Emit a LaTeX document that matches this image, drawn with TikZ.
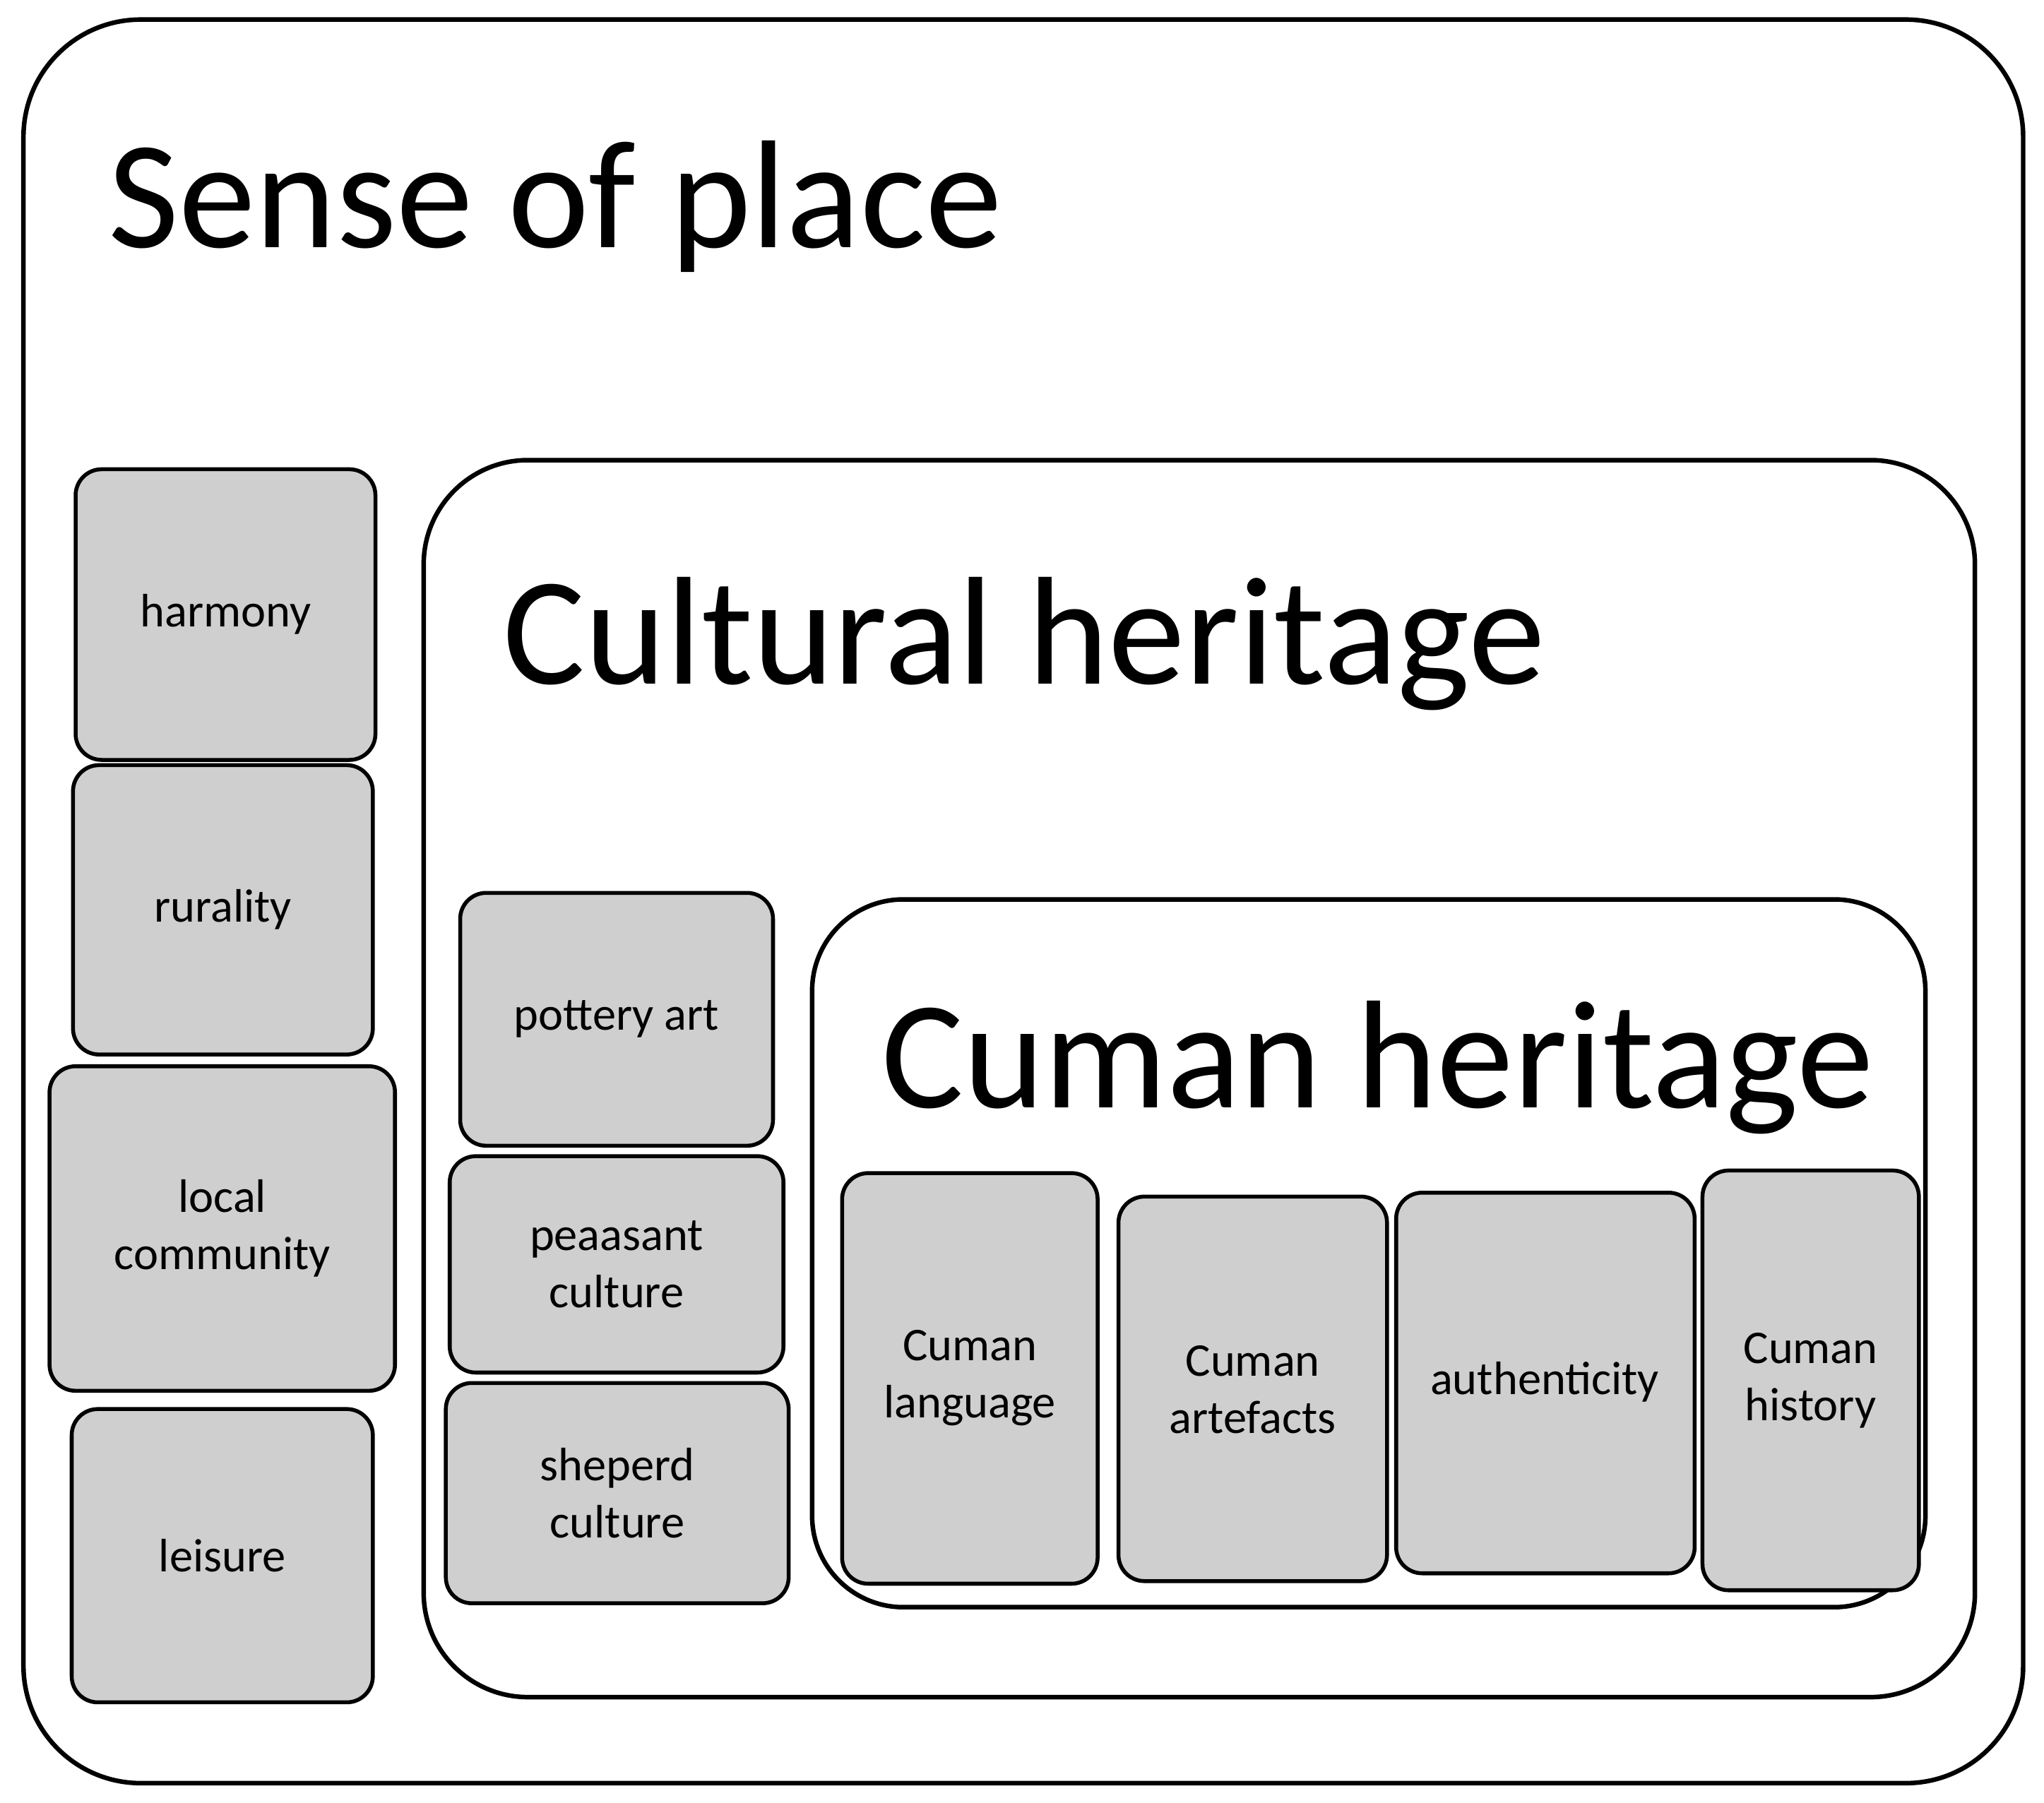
\documentclass[tikz,border=0pt]{standalone}
\usepackage{fontspec}
\setmainfont{Carlito}
\begin{document}
\begin{tikzpicture}[x=1pt,y=-1pt,
  frame/.style={draw=black,line width=3.5pt,fill=white},
  item/.style={draw=black,line width=3pt,fill=gray!38,rounded corners=20pt},
  lab/.style={font=\fontsize{36}{44}\selectfont,align=center},
  ttl/.style={font=\fontsize{118}{130}\selectfont,anchor=base west,inner sep=0}]
\useasboundingbox (0,0) rectangle (1568,1383);
\draw[frame,rounded corners=90pt] (18,15) rectangle (1552,1368);
\node[ttl] (t1) at (83,190) {Sense of place};
\draw[frame,rounded corners=80pt] (325,353) rectangle (1515,1302);
\node[ttl] (t2) at (386,525) {Cultural heritage};
\draw[frame,rounded corners=70pt] (623,690) rectangle (1477,1233);
\node[ttl] (t3) at (676,850) {Cuman heritage};
\newcommand\itm[6]{\draw[item] (#1,#2) rectangle (#3,#4);
  \node[lab] (#5) at ({(#1+#3)/2},{(#2+#4)/2}) {#6};}
\itm{58}{360}{288}{583}{a}{harmony}
\itm{56}{587}{286}{809}{b}{rurality}
\itm{38}{818}{303}{1067}{c}{local\\community}
\itm{55}{1081}{286}{1306}{d}{leisure}
\itm{353}{685}{593}{879}{e}{pottery art}
\itm{345}{887}{601}{1053}{f}{peaasant\\culture}
\itm{342}{1061}{605}{1230}{g}{sheperd\\culture}
\draw[item] (646,900) rectangle (842,1215); \node[lab] (h) at (744,1057) {Cuman\\language};
\draw[item] (858,918) rectangle (1064,1213); \node[lab] (i) at (961,1066) {Cuman\\artefacts};
\draw[item] (1071,915) rectangle (1300,1207); \node[lab] (j) at (1185,1060) {authenticity};
\draw[item] (1306,898) rectangle (1472,1220); \node[lab] (k) at (1389,1059) {Cuman\\history};
\end{tikzpicture}
\end{document}
